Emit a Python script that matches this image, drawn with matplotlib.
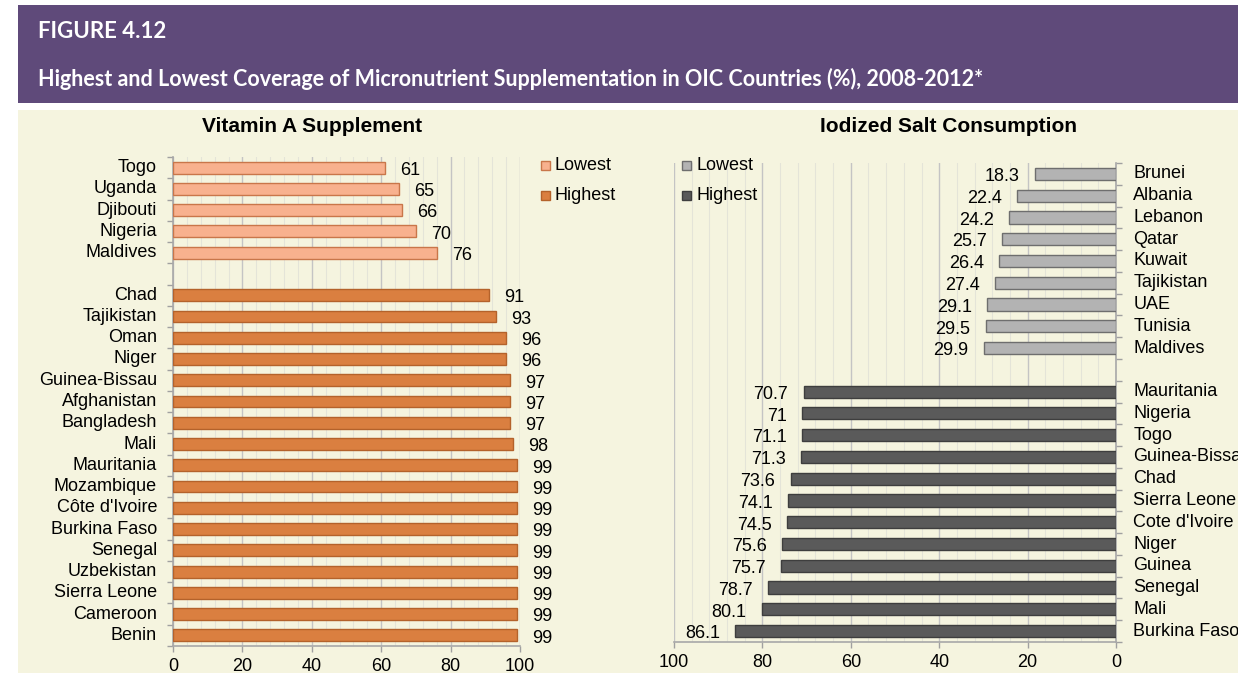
import matplotlib
matplotlib.use("Agg")
import matplotlib.pyplot as plt
from matplotlib.patches import Rectangle
from matplotlib.ticker import MultipleLocator
import numpy as np

plt.rcParams['font.family'] = ['Liberation Sans', 'DejaVu Sans']

# Vitamin A supplement (%)
vit_low_names = ["Togo", "Uganda", "Djibouti", "Nigeria", "Maldives"]
vit_low_vals = [61, 65, 66, 70, 76]
vit_high_names = ["Chad", "Tajikistan", "Oman", "Niger", "Guinea-Bissau", "Afghanistan",
                  "Bangladesh", "Mali", "Mauritania", "Mozambique", "Côte d'Ivoire",
                  "Burkina Faso", "Senegal", "Uzbekistan", "Sierra Leone", "Cameroon", "Benin"]
vit_high_vals = [91, 93, 96, 96, 97, 97, 97, 98, 99, 99, 99, 99, 99, 99, 99, 99, 99]

# Iodized salt consumption (%)
salt_low_names = ["Brunei", "Albania", "Lebanon", "Qatar", "Kuwait", "Tajikistan",
                  "UAE", "Tunisia", "Maldives"]
salt_low_vals = [18.3, 22.4, 24.2, 25.7, 26.4, 27.4, 29.1, 29.5, 29.9]
salt_high_names = ["Mauritania", "Nigeria", "Togo", "Guinea-Bissau", "Chad", "Sierra Leone",
                   "Cote d'Ivoire", "Niger", "Guinea", "Senegal", "Mali", "Burkina Faso"]
salt_high_vals = [70.7, 71, 71.1, 71.3, 73.6, 74.1, 74.5, 75.6, 75.7, 78.7, 80.1, 86.1]

PURPLE = "#5f4a7a"
BEIGE = "#f5f4df"
W, H = 1238, 673
FS = 13

fig = plt.figure(figsize=(W / 100, H / 100), dpi=100)
fig.patch.set_facecolor("white")

# header band and beige panel background
fig.add_artist(Rectangle((18 / W, 1 - 103 / H), 1, 98 / H, transform=fig.transFigure,
                         facecolor=PURPLE, edgecolor="none", zorder=0))
fig.add_artist(Rectangle((18 / W, 0), 1, 1 - 110 / H, transform=fig.transFigure,
                         facecolor=BEIGE, edgecolor="none", zorder=0))
fig.text(38 / W, 1 - 31 / H, "FIGURE 4.12", color="white", fontsize=16,
         fontweight="bold", family="Lato", va="center", ha="left")
fig.text(38 / W, 1 - 79 / H,
         "Highest and Lowest Coverage of Micronutrient Supplementation in OIC Countries (%), 2008-2012*",
         color="white", fontsize=15.5, fontweight="bold", family="Lato", va="center", ha="left")


def style_axes(ax, side, nslots):
    ax.set_facecolor("none")
    ax.set_ylim(nslots - 0.5, -0.5)
    ax.xaxis.set_major_locator(MultipleLocator(20))
    ax.xaxis.set_minor_locator(MultipleLocator(4))
    ax.grid(axis="x", which="major", color="#c4c4c4", lw=1.0, zorder=0)
    ax.grid(axis="x", which="minor", color="#e4e4d8", lw=0.8, zorder=0)
    ax.set_axisbelow(True)
    ax.set_yticks([])
    ax.set_yticks(np.arange(-0.5, nslots, 1), minor=True)
    ax.tick_params(axis="y", which="minor", length=4, color="#a0a0a0", width=1.0)
    ax.tick_params(axis="x", which="major", length=4, color="#a0a0a0", width=1.0,
                   labelsize=FS, pad=4.5)
    ax.tick_params(axis="x", which="minor", length=0)
    ax.spines["top"].set_visible(False)
    for s in ["left", "right", "bottom"]:
        ax.spines[s].set_color("#a8a8a8")
        ax.spines[s].set_linewidth(1.2)
    if side == "left":
        ax.spines["right"].set_visible(False)
    else:
        ax.spines["left"].set_visible(False)
        ax.yaxis.tick_right()


def legend_entry(x, y, face, edge, label):
    fig.add_artist(Rectangle((x / W, 1 - (y + 4.5) / H), 9 / W, 9 / H,
                             transform=fig.transFigure, facecolor=face, edgecolor=edge, lw=1))
    fig.text((x + 14) / W, 1 - y / H, label, fontsize=FS, va="center", ha="left")


# ---- left panel: Vitamin A ----
axL = fig.add_axes([173 / W, 1 - 646 / H, 347 / W, 489 / H])
low_pos = np.arange(len(vit_low_vals))
high_pos = np.arange(len(vit_high_vals)) + len(vit_low_vals) + 1
style_axes(axL, "left", len(vit_low_vals) + len(vit_high_vals) + 1)
axL.set_xlim(0, 100)
axL.barh(low_pos, vit_low_vals, height=0.56, color="#f8b18e", edgecolor="#c9764a", lw=1, zorder=3)
axL.barh(high_pos, vit_high_vals, height=0.56, color="#da7f40", edgecolor="#b4622b", lw=1, zorder=3)
for pos, name, val in zip(list(low_pos) + list(high_pos), vit_low_names + vit_high_names,
                          vit_low_vals + vit_high_vals):
    axL.annotate(name, (0, pos), xytext=(-11.5, 0), textcoords="offset points",
                 ha="right", va="center", fontsize=FS)
    axL.annotate(f"{val:g}", (val, pos), xytext=(11, -2), textcoords="offset points",
                 ha="left", va="center", fontsize=FS)
fig.text(312 / W, 1 - 127 / H, "Vitamin A Supplement", fontsize=15, fontweight="bold",
         ha="center", va="center")
legend_entry(541, 165, "#f8b18e", "#c9764a", "Lowest")
legend_entry(541, 195, "#da7f40", "#b4622b", "Highest")

# ---- right panel: Iodized salt ----
axR = fig.add_axes([674 / W, 1 - 642 / H, 442 / W, 479 / H])
low_pos = np.arange(len(salt_low_vals))
high_pos = np.arange(len(salt_high_vals)) + len(salt_low_vals) + 1
style_axes(axR, "right", len(salt_low_vals) + len(salt_high_vals) + 1)
axR.set_xlim(100, 0)
axR.barh(low_pos, salt_low_vals, height=0.56, color="#b3b3b3", edgecolor="#6e6e6e", lw=1, zorder=3)
axR.barh(high_pos, salt_high_vals, height=0.56, color="#5a5a5a", edgecolor="#3e3e3e", lw=1, zorder=3)
for pos, name, val in zip(list(low_pos) + list(high_pos), salt_low_names + salt_high_names,
                          salt_low_vals + salt_high_vals):
    axR.annotate(name, (0, pos), xytext=(12.5, 0), textcoords="offset points",
                 ha="left", va="center", fontsize=FS, annotation_clip=False)
    axR.annotate(f"{val:g}", (val, pos), xytext=(-11, -2), textcoords="offset points",
                 ha="right", va="center", fontsize=FS)
fig.text(948 / W, 1 - 127 / H, "Iodized Salt Consumption", fontsize=15, fontweight="bold",
         ha="center", va="center")
legend_entry(682, 165, "#b3b3b3", "#6e6e6e", "Lowest")
legend_entry(682, 195, "#5a5a5a", "#3e3e3e", "Highest")

fig.savefig("out.png", dpi=100, facecolor=fig.get_facecolor())
